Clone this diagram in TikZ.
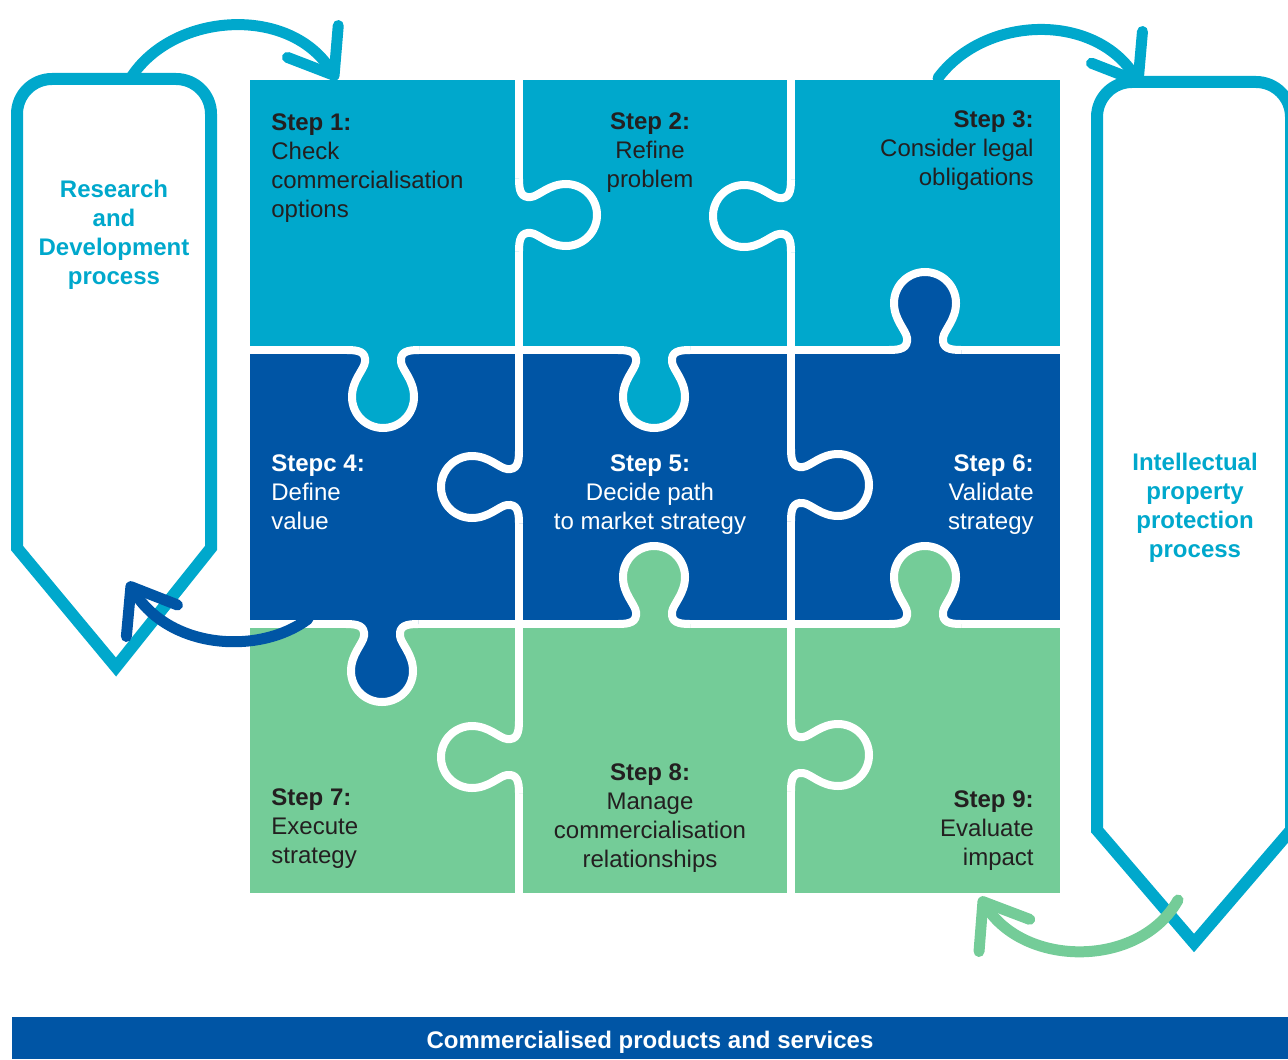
\documentclass[tikz,border=0pt]{standalone}
\usepackage{fontspec}
\setmainfont{Liberation Sans}
\usepackage{xcolor}
\usepackage{tikz}
\usetikzlibrary{arrows.meta,positioning}

\definecolor{pzlight}{HTML}{00A8CC}
\definecolor{pzdark}{HTML}{0055A5}
\definecolor{pzgreen}{HTML}{74CC98}
\definecolor{pztext}{HTML}{231F20}

\tikzset{
  seam/.style={draw=white,line width=4pt},
  steptext/.style={font=\fontsize{12}{14.5}\selectfont,inner sep=0pt,text=pztext},
  proctext/.style={font=\fontsize{12}{14.5}\selectfont\bfseries,inner sep=0pt,text=pzlight,align=center,anchor=north},
  procline/.style={draw=pzlight,line width=6pt,line join=miter},
  looparrow/.style={line width=5.5pt,line cap=round,-{Straight Barb[length=20pt,width=30pt,round]}},
}

% one puzzle tab: seam point, turn, colour of the piece it belongs to
\newcommand{\knob}[4]{%
  \begin{scope}[shift={(#1,#2)},rotate=#3]
    \fill[#4] (-36,-6) -- (-36,0) .. controls (-24,0) and (-17,2) .. (-18,12)
      .. controls (-19,20) and (-31,30) .. (-31,47) arc[start angle=180,end angle=0,radius=31]
      .. controls (31,30) and (19,20) .. (18,12) .. controls (17,2) and (24,0) .. (36,0) -- (36,-6) -- cycle;
    \draw[seam] (-36,0) .. controls (-24,0) and (-17,2) .. (-18,12)
      .. controls (-19,20) and (-31,30) .. (-31,47) arc[start angle=180,end angle=0,radius=31]
      .. controls (31,30) and (19,20) .. (18,12) .. controls (17,2) and (24,0) .. (36,0);
  \end{scope}}

\begin{document}
\begin{tikzpicture}[x=0.5pt,y=-0.5pt]
	\useasboundingbox (0,0) rectangle (1288,1059);

	% puzzle rows
	\fill[pzlight] (250,80) rectangle (1060,350);
	\fill[pzdark]  (250,350) rectangle (1060,624);
	\fill[pzgreen] (250,624) rectangle (1060,893);
	\draw[seam] (519,80) -- (519,893);
	\draw[seam] (791,80) -- (791,893);
	\draw[seam] (250,350) -- (1060,350);
	\draw[seam] (250,624) -- (1060,624);
	\foreach \kx/\ky/\kr/\kc in {519/215/90/pzlight, 791/216/-90/pzlight, 925/350/180/pzdark,
	    383/350/0/pzlight, 654/350/0/pzlight, 519/487/-90/pzdark, 791/485/90/pzdark,
	    654/624/180/pzgreen, 925/624/180/pzgreen, 382/624/0/pzdark,
	    519/757/-90/pzgreen, 791/755/90/pzgreen}
	  {\knob{\kx}{\ky}{\kr}{\kc}}

	% step labels
	\node[steptext,anchor=north west,align=left] (s1) at (271,113) {\textbf{Step 1:}\\Check\\commercialisation\\options};
	\node[steptext,anchor=north,align=center] (s2) at (650,112) {\textbf{Step 2:}\\Refine\\problem};
	\node[steptext,anchor=north east,align=right] (s3) at (1034,110) {\textbf{Step 3:}\\Consider legal\\obligations};
	\node[steptext,text=white,anchor=north west,align=left] (s4) at (271,454) {\textbf{Stepc 4:}\\Define\\value};
	\node[steptext,text=white,anchor=north,align=center] (s5) at (650,454) {\textbf{Step 5:}\\Decide path\\to market strategy};
	\node[steptext,text=white,anchor=north east,align=right] (s6) at (1034,454) {\textbf{Step 6:}\\Validate\\strategy};
	\node[steptext,anchor=north west,align=left] (s7) at (271,788) {\textbf{Step 7:}\\Execute\\strategy};
	\node[steptext,anchor=north,align=center] (s8) at (650,763) {\textbf{Step 8:}\\Manage\\commercialisation\\relationships};
	\node[steptext,anchor=north east,align=right] (s9) at (1034,790) {\textbf{Step 9:}\\Evaluate\\impact};

	% side processes
	\draw[procline] (116,667) -- (17,548) -- (17,114) arc[start angle=180,end angle=270,radius=35]
	  -- (176,79) arc[start angle=270,end angle=360,radius=35] -- (211,548) -- cycle;
	\draw[procline] (1194,943) -- (1097,830) -- (1097,117) arc[start angle=180,end angle=270,radius=35]
	  -- (1256,82) arc[start angle=270,end angle=360,radius=35] -- (1291,830) -- cycle;
	\node[proctext] (rd) at (114,180) {Research\\and\\Development\\process};
	\node[proctext] (ip) at (1195,453) {Intellectual\\property\\protection\\process};

	% loops
	\coordinate (rdtop) at (132,76);
	\coordinate (s1top) at (337,80);
	\coordinate (s3top) at (938,78);
	\coordinate (iptop) at (1141,86);
	\coordinate (s4bot) at (308,619);
	\coordinate (rdside) at (128,582);
	\coordinate (ipbot) at (1178,900);
	\coordinate (s9bot) at (980,897);
	\draw[looparrow,pzlight] (rdtop) .. controls (175,12) and (290,5) .. (s1top);
	\draw[looparrow,pzlight] (s3top) .. controls (985,15) and (1095,12) .. (iptop);
	\draw[looparrow,pzdark] (s4bot) .. controls (260,655) and (170,650) .. (rdside);
	\draw[looparrow,pzgreen] (ipbot) .. controls (1140,968) and (1025,968) .. (s9bot);

	% outcome
	\node[fill=pzdark,text=white,font=\fontsize{12}{14.5}\selectfont\bfseries,minimum width=638pt,minimum height=21pt,inner sep=0pt,text height=10.6pt,text depth=0pt] (cps) at (650,1038) {Commercialised products and services};
\end{tikzpicture}
\end{document}
